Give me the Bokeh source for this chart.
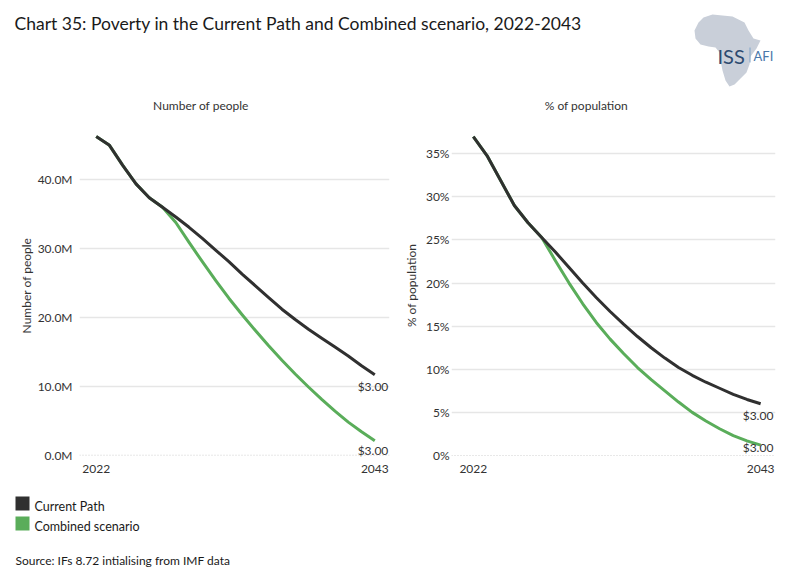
from bokeh.plotting import figure
from bokeh.layouts import column, row
from bokeh.models import Range1d, FixedTicker, PrintfTickFormatter, Span, ColumnDataSource
from bokeh.embed import file_html
from bokeh.resources import INLINE
from bokeh.core.properties import value

FONT = "Lato"
DARK = "#303030"
GREEN = "#5aad5a"
TXT = "#333333"

# ---------------- data ----------------
years = list(range(2022, 2044))
people_current = [46.3, 45.0, 42.1, 39.4, 37.4, 36.0, 34.6, 33.1, 31.5, 29.8, 28.1,
                  26.3, 24.6, 22.9, 21.2, 19.7, 18.3, 17.0, 15.7, 14.4, 13.0, 11.7]
people_combined = [46.3, 45.0, 42.1, 39.4, 37.4, 36.0, 33.8, 30.9, 28.1, 25.4, 22.8,
                   20.4, 18.1, 15.9, 13.8, 11.8, 9.9, 8.1, 6.4, 4.8, 3.4, 2.1]
pct_current = [37.0, 34.8, 31.9, 29.0, 27.0, 25.3, 23.6, 21.8, 20.0, 18.3, 16.7,
               15.2, 13.8, 12.5, 11.3, 10.2, 9.3, 8.5, 7.8, 7.1, 6.5, 6.0]
pct_combined = [37.0, 34.8, 31.9, 29.0, 27.0, 25.3, 22.6, 20.0, 17.6, 15.4, 13.5,
                11.8, 10.2, 8.8, 7.5, 6.2, 5.0, 4.0, 3.1, 2.3, 1.7, 1.2]
people_ticks = [0, 10, 20, 30, 40]
pct_ticks = [0, 5, 10, 15, 20, 25, 30, 35]
x_ticks = [2022, 2043]
end_label = "$3.00"
series_names = ["Current Path", "Combined scenario"]
title_text = "Chart 35: Poverty in the Current Path and Combined scenario, 2022-2043"
panel_titles = ["Number of people", "% of population"]
source_text = "Source: IFs 8.72 intialising from IMF data"


def chart(width, xr, yr, border_left, border_right, ticks, fmt, ylabel,
          current, combined, label_std, axlabel_std, end_offsets, x_off):
    p = figure(width=width, height=368, x_range=Range1d(*xr), y_range=Range1d(*yr),
               output_backend="svg", toolbar_location=None,
               min_border_left=border_left, min_border_right=border_right,
               min_border_top=0, min_border_bottom=22, outline_line_color=None)
    p.xaxis.ticker = FixedTicker(ticks=x_ticks)
    p.yaxis.ticker = FixedTicker(ticks=ticks)
    p.yaxis.formatter = PrintfTickFormatter(format=fmt)
    for ax in (p.xaxis[0], p.yaxis[0]):
        ax.axis_line_color = None
        ax.major_tick_line_color = None
        ax.minor_tick_line_color = None
        ax.major_tick_out = 0
        ax.major_tick_in = 0
        ax.major_label_text_font = FONT
        ax.major_label_text_font_size = "12px"
        ax.major_label_text_color = TXT
    p.xaxis.major_label_standoff = 6
    p.yaxis.major_label_standoff = label_std
    p.yaxis.axis_label = ylabel
    p.yaxis.axis_label_text_font = FONT
    p.yaxis.axis_label_text_font_size = "12px"
    p.yaxis.axis_label_text_font_style = "normal"
    p.yaxis.axis_label_text_color = TXT
    p.yaxis.axis_label_standoff = axlabel_std
    p.xgrid.visible = False
    p.ygrid.ticker = FixedTicker(ticks=[t for t in ticks if t != 0])
    p.ygrid.grid_line_color = "#e6e6e6"
    p.ygrid.grid_line_width = 1.5
    p.add_layout(Span(location=0, dimension="width", line_color="#cfcfcf",
                      line_dash="1 2", line_width=1))
    p.line(years, combined, line_color=GREEN, line_width=3, line_join="round")
    p.line(years, current, line_color=DARK, line_width=3, line_join="round")
    src = ColumnDataSource(dict(x=[years[-1], years[-1]], y=[current[-1], combined[-1]],
                                t=[end_label, end_label], yo=end_offsets))
    p.text(x="x", y="y", text="t", y_offset="yo", x_offset=x_off, source=src,
           text_align="right", text_baseline="middle", text_font=value(FONT),
           text_font_size="12px", text_color=TXT)
    return p


left = chart(400, (2020.741, 2044.108), (-0.48, 49.77), 79, 11, people_ticks, "%.1fM",
             panel_titles[0], people_current, people_combined, 7, 1, [12, 10], 13.5)
right = chart(378, (2020.407, 2044.086), (-0.35, 39.79), 48, 3, pct_ticks, "%d%%",
              panel_titles[1], pct_current, pct_combined, 2, 4, [12, 2], 12.7)

# ---------------- header ----------------
top = figure(width=778, height=112, x_range=Range1d(0, 778), y_range=Range1d(112, 0),
             output_backend="svg", toolbar_location=None, min_border=0,
             x_axis_location=None, y_axis_location=None, outline_line_color=None)
top.grid.visible = False
top.text(x=[14], y=[23], text=[title_text], text_font=value(FONT), text_font_size="17.5px",
         text_baseline="middle", text_align="left", text_color="#1a1a1a")
top.text(x=[200.5, 585.8], y=[105, 105], text=panel_titles, text_font=value(FONT),
         text_font_size="12px", text_baseline="middle", text_align="center", text_color=TXT)
# logo
africa_x = [703, 712, 722, 732, 738, 744, 748, 753, 760, 756, 750, 749, 746, 740, 734,
            729, 725, 722, 720, 719, 715, 708, 700, 695, 694, 698]
africa_y = [17, 14, 15, 16, 19, 22, 30, 38, 40, 48, 56, 64, 72, 78, 84, 86, 80, 70, 60,
            52, 47, 46, 44, 38, 30, 22]
top.patch(africa_x, africa_y, fill_color="#c9cfd9", line_color=None)
top.text(x=[717], y=[55], text=["ISS"], text_font=value(FONT), text_font_size="20px",
         text_baseline="middle", text_align="left", text_color="#2c4a70")
top.segment(x0=[749.5], y0=[47], x1=[749.5], y1=[62], line_color="#7fa3c8", line_width=1)
top.text(x=[753], y=[55.5], text=["AFI"], text_font=value(FONT), text_font_size="13px",
         text_baseline="middle", text_align="left", text_color="#4a78aa")

# ---------------- footer ----------------
bottom = figure(width=778, height=91, x_range=Range1d(0, 778), y_range=Range1d(571, 480),
                output_backend="svg", toolbar_location=None, min_border=0,
                x_axis_location=None, y_axis_location=None, outline_line_color=None)
bottom.grid.visible = False
bottom.rect(x=[22, 22], y=[503, 523], width=14, height=14, fill_color=[DARK, GREEN],
            line_color=None)
bottom.text(x=[34, 34], y=[505.5, 525.5], text=series_names, text_font=value(FONT),
            text_font_size="12.5px", text_baseline="middle", text_align="left",
            text_color="#1a1a1a")
bottom.text(x=[15], y=[559.5], text=[source_text], text_font=value(FONT),
            text_font_size="12px", text_baseline="middle", text_align="left",
            text_color="#1a1a1a")

layout = column(top, row(left, right), bottom)
open("out.html", "w").write(file_html(layout, INLINE))
